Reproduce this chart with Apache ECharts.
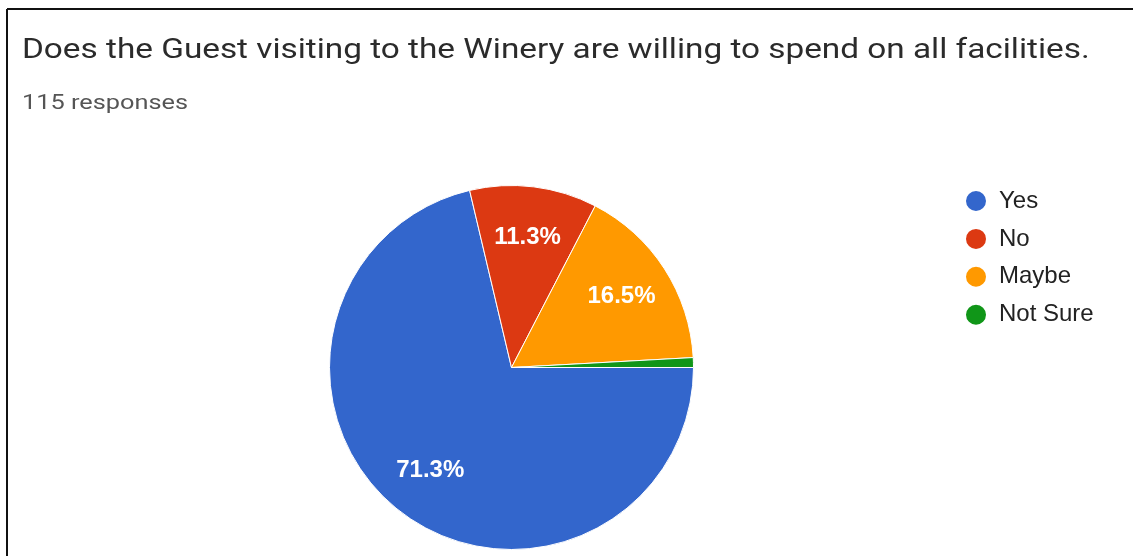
<!DOCTYPE html>
<html>
<head>
<meta charset="utf-8">
<style>
  html, body { margin: 0; padding: 0; background: #fff; }
  #chart { width: 1133px; height: 556px; }
</style>
<script src="https://cdn.jsdelivr.net/npm/echarts@6/dist/echarts.min.js"></script>
</head>
<body>
<div id="chart"></div>
<script>
// Survey answers and their response counts (115 responses in total)
const categories = ['Yes', 'No', 'Maybe', 'Not Sure'];
const counts = [82, 13, 19, 1];
const sliceColors = ['#3366cc', '#dc3912', '#ff9900', '#109618'];
const titleText = 'Does the Guest visiting to the Winery are willing to spend on all facilities.';
const subtitleText = '115 responses';

const total = counts.reduce((a, b) => a + b, 0);
const pieData = categories.map((name, i) => ({
  name: name,
  value: counts[i],
  itemStyle: { color: sliceColors[i] }
}));

const chart = echarts.init(document.getElementById('chart'), null, { renderer: 'canvas' });

const center = [511.5, 367.5];
const outerR = 182;

chart.setOption({
  animation: false,
  backgroundColor: '#ffffff',
  legend: {
    orient: 'vertical',
    left: 964, top: 189,
    padding: 0,
    icon: 'circle',
    itemWidth: 22, itemHeight: 22,
    itemGap: 13.9,
    selectedMode: false,
    data: categories.map((name, i) => ({ name: name, itemStyle: { color: sliceColors[i] } })),
    textStyle: { fontFamily: 'Liberation Sans', fontSize: 24, color: '#222222', padding: [0, 0, 0, 7] }
  },
  graphic: [
    // frame lines along the top and left edge
    { type: 'line', shape: { x1: 7, y1: 9, x2: 1133, y2: 9 }, style: { stroke: '#111', lineWidth: 2 } },
    { type: 'line', shape: { x1: 7, y1: 9, x2: 7, y2: 556 }, style: { stroke: '#111', lineWidth: 2 } },
    // question heading, set in a widened Roboto
    {
      type: 'text', x: 22, y: 51, scaleX: 1.19,
      style: {
        text: titleText, fill: '#2b2b2b',
        font: '28px Roboto', verticalAlign: 'middle', align: 'left'
      }
    },
    {
      type: 'text', x: 22, y: 104, scaleX: 1.206,
      style: {
        text: subtitleText, fill: '#555555',
        font: '21px Roboto', verticalAlign: 'middle', align: 'left'
      }
    }
  ],
  series: [
    {
      // the slices themselves
      type: 'pie',
      center: center,
      radius: outerR,
      startAngle: 0,
      clockwise: true,
      silent: true,
      label: { show: false },
      labelLine: { show: false },
      itemStyle: { borderColor: '#ffffff', borderWidth: 1 },
      emphasis: { disabled: true },
      data: pieData
    },
    {
      // transparent ring carrying the percentage labels at ~0.7 of the radius
      type: 'pie',
      center: center,
      radius: [74, outerR],
      startAngle: 0,
      clockwise: true,
      silent: true,
      z: 3,
      itemStyle: { color: 'rgba(0,0,0,0)', borderWidth: 0 },
      emphasis: { disabled: true },
      labelLine: { show: false },
      label: {
        show: true,
        position: 'inside',
        fontFamily: 'Liberation Sans',
        fontSize: 24,
        fontWeight: 'bold',
        color: '#ffffff',
        formatter: p => (p.value / total * 100 >= 5 ? (p.value / total * 100).toFixed(1) + '%' : '')
      },
      data: categories.map((name, i) => ({ name: name, value: counts[i] }))
    }
  ]
});
</script>
</body>
</html>
